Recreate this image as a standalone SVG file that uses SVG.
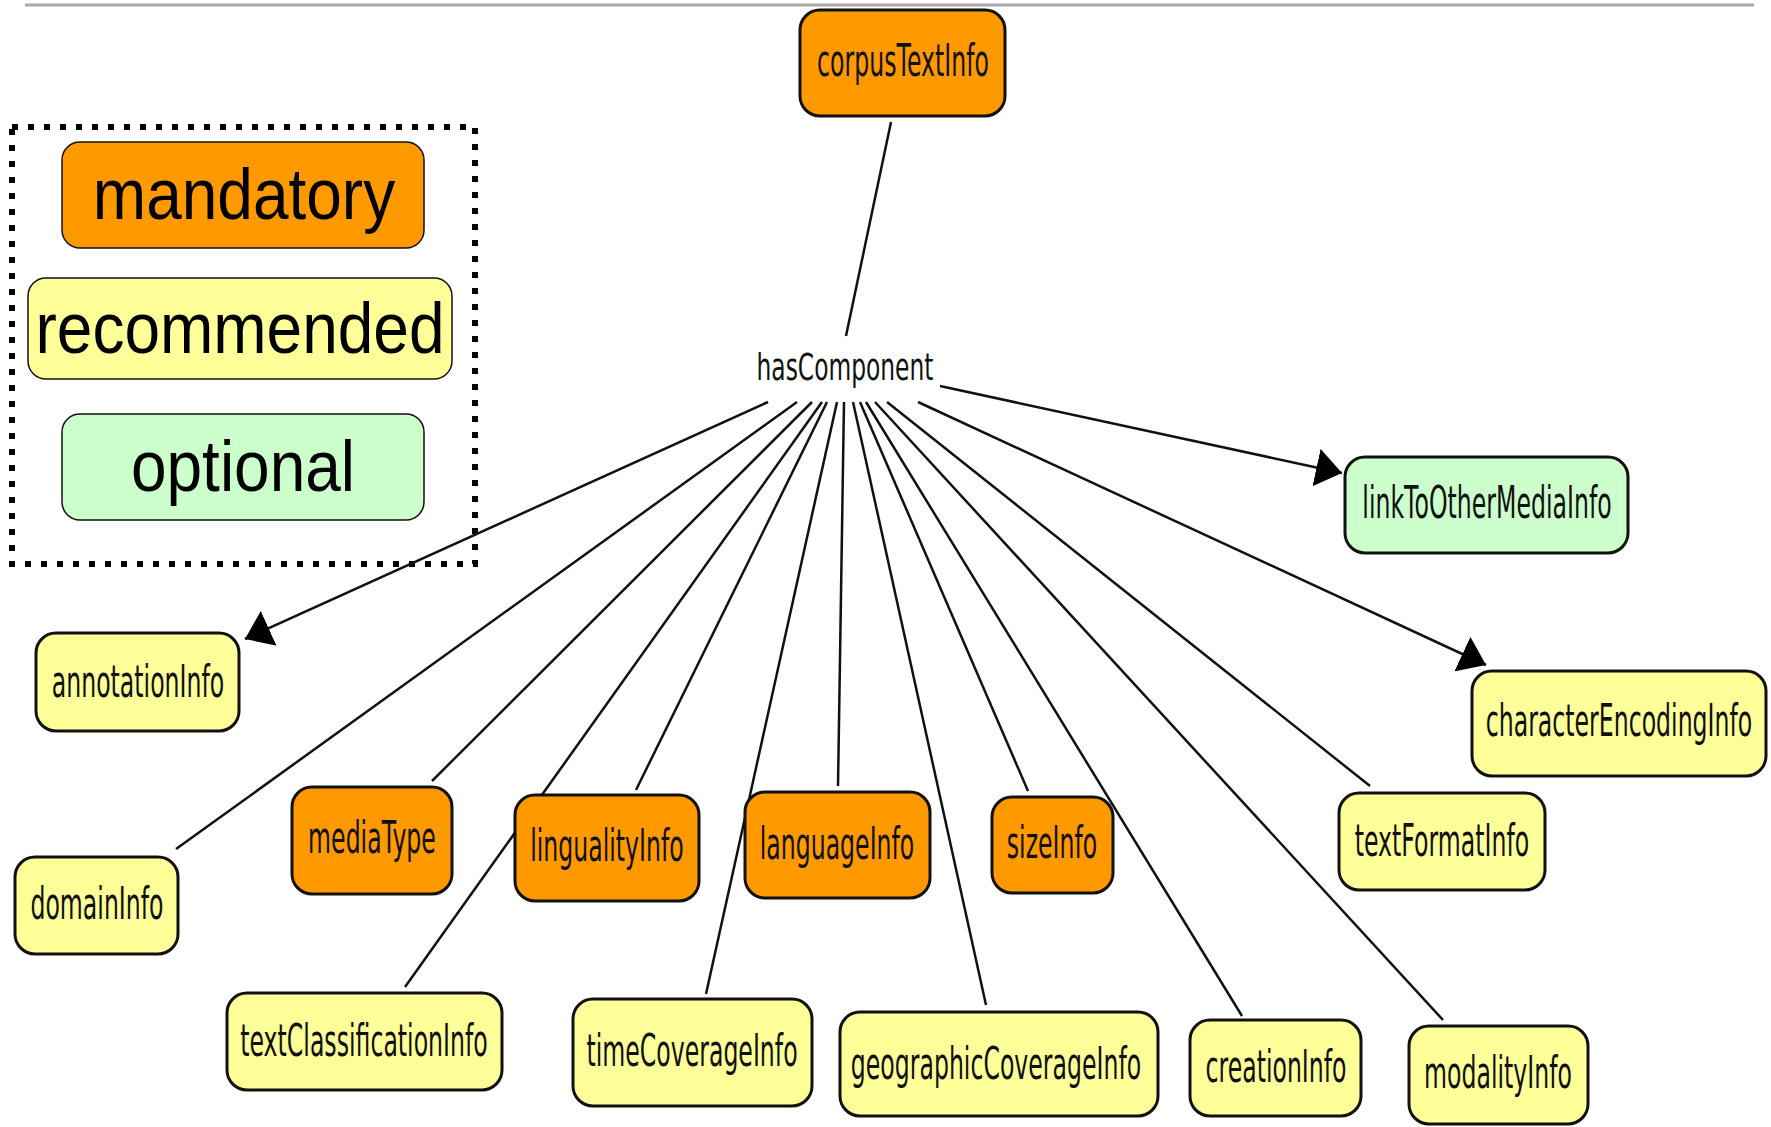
<svg xmlns="http://www.w3.org/2000/svg" width="1771" height="1127" viewBox="0 0 1771 1127">
<defs>
<style>
.node rect{stroke:#111;stroke-width:3}
.m{fill:#FF9900}
.r{fill:#FFFF99}
.o{fill:#CCFFCC}
.nt{font-family:"DejaVu Sans",Verdana,sans-serif;font-size:45px;fill:#111;text-anchor:middle}
.lt{font-family:"Liberation Sans",Arial,sans-serif;font-size:64px;fill:#000;text-anchor:middle}
.conn line{stroke:#111;stroke-width:2.5}
</style>
<marker id="arr" markerUnits="userSpaceOnUse" markerWidth="27" markerHeight="38" refX="26" refY="19" orient="auto" viewBox="0 0 27 38">
<path d="M0,0 L26,19 L0,38 z" fill="#000"/>
</marker>
</defs>
<rect width="1771" height="1127" fill="#fff"/>
<line x1="25" y1="5" x2="1754" y2="5" stroke="#aaa" stroke-width="3"/>

<g id="legend">
<rect x="12" y="127" width="463" height="437" fill="none" stroke="#000" stroke-width="6" stroke-dasharray="6 10"/>
<rect class="m" x="62" y="142" width="362" height="106" rx="18" stroke="#111" stroke-width="1.5"/>
<text class="lt" transform="translate(244,219) scale(1,1.13)">mandatory</text>
<rect class="r" x="28" y="278" width="424" height="101" rx="18" stroke="#111" stroke-width="1.5"/>
<text class="lt" transform="translate(240,353) scale(1,1.13)">recommended</text>
<rect class="o" x="62" y="414" width="362" height="106" rx="18" stroke="#111" stroke-width="1.5"/>
<text class="lt" transform="translate(243,491) scale(1,1.13)">optional</text>
</g>

<g id="connectors" class="conn">
<line x1="891" y1="122" x2="846" y2="336"/>
<line x1="940" y1="386" x2="1342" y2="473" marker-end="url(#arr)"/>
<line x1="918" y1="402" x2="1486" y2="665" marker-end="url(#arr)"/>
<line x1="768" y1="402" x2="245" y2="639" marker-end="url(#arr)"/>
<line x1="797" y1="402" x2="176" y2="849"/>
<line x1="812" y1="402" x2="432" y2="781"/>
<line x1="822" y1="402" x2="405" y2="987"/>
<line x1="827" y1="402" x2="636" y2="790"/>
<line x1="837" y1="402" x2="706" y2="994"/>
<line x1="844" y1="402" x2="838" y2="786"/>
<line x1="853" y1="402" x2="986" y2="1005"/>
<line x1="860" y1="402" x2="1028" y2="791"/>
<line x1="866" y1="402" x2="1242" y2="1016"/>
<line x1="875" y1="402" x2="1443" y2="1020"/>
<line x1="887" y1="402" x2="1370" y2="786"/>
</g>

<g id="hasComponent">
<text class="nt" style="font-size:38px" transform="translate(845,380) scale(0.615,1)">hasComponent</text>
</g>

<g id="corpusTextInfo" class="node">
<rect class="m" x="800" y="10" width="205" height="106" rx="20"/>
<text class="nt" transform="translate(903,76) scale(0.525,1)">corpusTextInfo</text>
</g>
<g id="linkToOtherMediaInfo" class="node">
<rect class="o" x="1345" y="457" width="283" height="96" rx="20"/>
<text class="nt" transform="translate(1487,518) scale(0.525,1)">linkToOtherMediaInfo</text>
</g>
<g id="characterEncodingInfo" class="node">
<rect class="r" x="1472" y="671" width="294" height="105" rx="20"/>
<text class="nt" transform="translate(1619,736) scale(0.525,1)">characterEncodingInfo</text>
</g>
<g id="annotationInfo" class="node">
<rect class="r" x="36" y="633" width="203" height="98" rx="20"/>
<text class="nt" transform="translate(138,697) scale(0.525,1)">annotationInfo</text>
</g>
<g id="domainInfo" class="node">
<rect class="r" x="15" y="857" width="163" height="97" rx="20"/>
<text class="nt" transform="translate(97,919) scale(0.525,1)">domainInfo</text>
</g>
<g id="mediaType" class="node">
<rect class="m" x="292" y="787" width="160" height="107" rx="20"/>
<text class="nt" transform="translate(372,853) scale(0.525,1)">mediaType</text>
</g>
<g id="lingualityInfo" class="node">
<rect class="m" x="515" y="795" width="184" height="106" rx="20"/>
<text class="nt" transform="translate(607,861) scale(0.525,1)">lingualityInfo</text>
</g>
<g id="languageInfo" class="node">
<rect class="m" x="745" y="792" width="185" height="106" rx="20"/>
<text class="nt" transform="translate(837,859) scale(0.525,1)">languageInfo</text>
</g>
<g id="sizeInfo" class="node">
<rect class="m" x="992" y="797" width="121" height="96" rx="20"/>
<text class="nt" transform="translate(1052,858) scale(0.525,1)">sizeInfo</text>
</g>
<g id="textFormatInfo" class="node">
<rect class="r" x="1339" y="793" width="206" height="97" rx="20"/>
<text class="nt" transform="translate(1442,856) scale(0.525,1)">textFormatInfo</text>
</g>
<g id="textClassificationInfo" class="node">
<rect class="r" x="227" y="993" width="275" height="97" rx="20"/>
<text class="nt" transform="translate(364,1056) scale(0.525,1)">textClassificationInfo</text>
</g>
<g id="timeCoverageInfo" class="node">
<rect class="r" x="573" y="999" width="239" height="107" rx="20"/>
<text class="nt" transform="translate(692,1066) scale(0.525,1)">timeCoverageInfo</text>
</g>
<g id="geographicCoverageInfo" class="node">
<rect class="r" x="840" y="1012" width="318" height="104" rx="20"/>
<text class="nt" transform="translate(996,1079) scale(0.525,1)">geographicCoverageInfo</text>
</g>
<g id="creationInfo" class="node">
<rect class="r" x="1190" y="1020" width="171" height="96" rx="20"/>
<text class="nt" transform="translate(1276,1082) scale(0.525,1)">creationInfo</text>
</g>
<g id="modalityInfo" class="node">
<rect class="r" x="1409" y="1026" width="179" height="98" rx="20"/>
<text class="nt" transform="translate(1498,1088) scale(0.525,1)">modalityInfo</text>
</g>
</svg>
